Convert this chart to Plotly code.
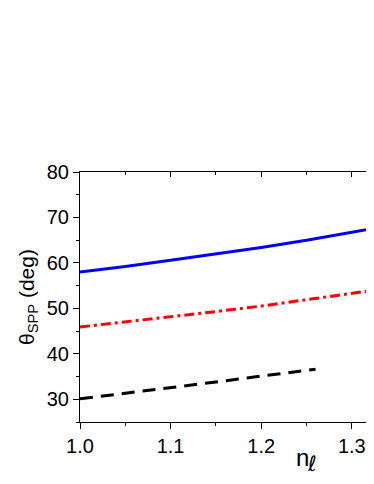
import plotly.graph_objects as go

n_blue = [1.0, 1.05, 1.1, 1.15, 1.2, 1.25, 1.3, 1.325]
theta_blue = [58.0, 59.2, 60.6, 62.0, 63.4, 65.0, 66.7, 67.6]
n_red = [1.0, 1.05, 1.1, 1.15, 1.2, 1.25, 1.3, 1.325]
theta_red = [45.9, 47.0, 48.1, 49.3, 50.5, 51.9, 53.3, 54.0]
n_black = [1.0, 1.05, 1.1, 1.15, 1.2, 1.26]
theta_black = [30.1, 31.3, 32.6, 33.8, 35.1, 36.6]

x_ticks = [1.0, 1.1, 1.2, 1.3]
y_ticks = [30, 40, 50, 60, 70, 80]

FONT = "Liberation Sans, Arial, sans-serif"
XR = [1.0, 1.3245]

fig = go.Figure()
fig.add_trace(go.Scatter(x=n_blue, y=theta_blue, mode="lines",
                         line=dict(color="#0000ff", width=3), showlegend=False))
fig.add_trace(go.Scatter(x=n_red, y=theta_red, mode="lines",
                         line=dict(color="#ff0000", width=3, dash="10px,4px,3px,4px"), showlegend=False))
fig.add_trace(go.Scatter(x=n_black, y=theta_black, mode="lines",
                         line=dict(color="#000000", width=3, dash="13px,8px"), showlegend=False))
# invisible trace for top axis
fig.add_trace(go.Scatter(x=XR, y=[None, None], xaxis="x2", yaxis="y", mode="lines",
                         showlegend=False, hoverinfo="skip"))

fig.update_layout(
    width=366, height=468,
    margin=dict(l=72, r=0, t=164, b=54),
    paper_bgcolor="white", plot_bgcolor="white",
    font=dict(family=FONT, color="black", size=20),
    xaxis=dict(range=XR, tickvals=x_ticks, ticktext=["1.0", "1.1", "1.2", "1.3"],
               showgrid=False, zeroline=False, showline=True, linecolor="black", linewidth=1,
               ticks="outside", ticklen=6, tickwidth=1, tickcolor="black",
               minor=dict(dtick=0.05, ticks="outside", ticklen=3, tickcolor="black"),
               tickfont=dict(size=20)),
    xaxis2=dict(range=XR, overlaying="x", side="top", tickvals=x_ticks, showticklabels=False,
                showgrid=False, zeroline=False, showline=True, linecolor="black", linewidth=1,
                ticks="inside", ticklen=5, tickwidth=1, tickcolor="black",
                minor=dict(dtick=0.05, ticks="inside", ticklen=3, tickcolor="black")),
    yaxis=dict(range=[25, 80], tickvals=y_ticks,
               showgrid=False, zeroline=False, showline=True, linecolor="black", linewidth=1,
               ticks="outside", ticklen=6, tickwidth=1, tickcolor="black",
               minor=dict(dtick=5, ticks="outside", ticklen=3, tickcolor="black"),
               tickfont=dict(size=20),
               title=dict(text="θ<sub>SPP</sub> (deg)", font=dict(size=21), standoff=6)),
    annotations=[
        dict(text="n", xref="paper", yref="paper", x=0.758, y=-0.14,
             xanchor="center", yanchor="middle", showarrow=False,
             font=dict(size=24, family=FONT)),
        dict(text="<i>ℓ</i>", xref="paper", yref="paper", x=0.79, y=-0.166,
             xanchor="center", yanchor="middle", showarrow=False,
             font=dict(size=21, family="DejaVu Sans, sans-serif")),
    ],
)

fig.write_html("out.html")
